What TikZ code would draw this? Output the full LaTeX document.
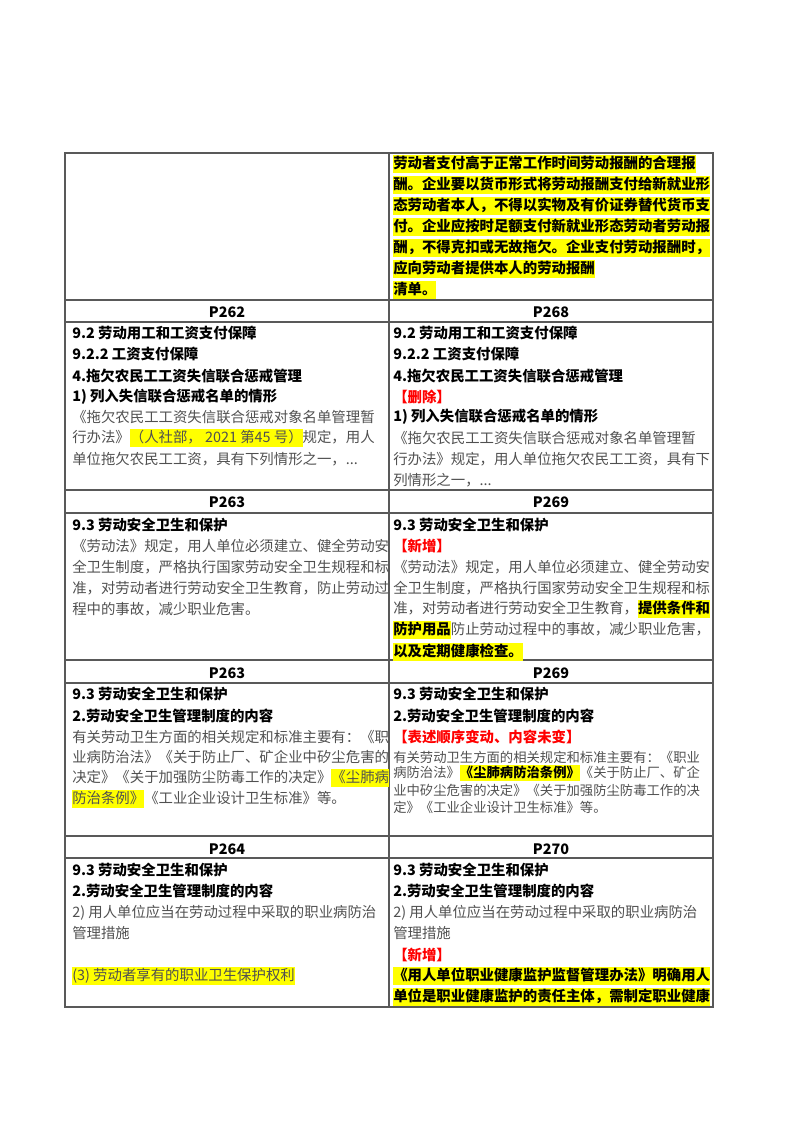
\documentclass[tikz,border=0pt]{standalone}
\usepackage{fontspec}
\setmainfont{Noto Sans CJK SC}
\usepackage{xcolor}
\definecolor{tg}{HTML}{505050}
\definecolor{hly}{HTML}{FFFF00}
\newcommand\hlx[1]{{\setlength{\fboxsep}{0pt}\colorbox{hly}{\rule[-0.28em]{0pt}{1.2em}#1}}}
\tikzset{
 ln/.style={anchor=west,inner sep=0pt,font=\fontsize{10.8}{13}\selectfont,text=tg},
 bl/.style={anchor=west,inner sep=0pt,font=\fontsize{10.8}{13}\selectfont\bfseries,text=black},
 rd/.style={anchor=west,inner sep=0pt,font=\fontsize{10.8}{13}\selectfont\bfseries,text=red},
 sm/.style={anchor=west,inner sep=0pt,font=\fontsize{10}{12}\selectfont,text=tg},
 hd/.style={inner sep=0pt,font=\fontsize{10.8}{13}\selectfont\bfseries},
 gl/.style={draw=black!65,line width=0.8pt}
}
\begin{document}
\begin{tikzpicture}[x=0.75pt,y=-0.75pt]
\useasboundingbox (0,0) rectangle (800,1132);
% grid
\draw[gl] (65,153) rectangle (713,1007);
\draw[gl] (389,153) -- (389,1007);
\foreach \yy in {300,322,490,513,660,683,836,858} \draw[gl] (65,\yy) -- (713,\yy);
% row 1
\node[bl] (r1a) at (393,164) {\hlx{劳动者支付高于正常工作时间劳动报酬的合理报}};
\node[bl] (r1b) at (393,185) {\hlx{酬。企业要以货币形式将劳动报酬支付给新就业形}};
\node[bl] (r1c) at (393,206) {\hlx{态劳动者本人，不得以实物及有价证券替代货币支}};
\node[bl] (r1d) at (393,227) {\hlx{付。企业应按时足额支付新就业形态劳动者劳动报}};
\node[bl] (r1e) at (393,248) {\hlx{酬，不得克扣或无故拖欠。企业支付劳动报酬时，}};
\node[bl] (r1f) at (393,269) {\hlx{应向劳动者提供本人的劳动报酬}};
\node[bl] (r1g) at (393,290) {\hlx{清单。}};
% headers
\node[hd] (h1) at (227,312) {P262};
\node[hd] (h2) at (551,312) {P268};
\node[hd] (h3) at (227,502) {P263};
\node[hd] (h4) at (551,502) {P269};
\node[hd] (h5) at (227,673) {P263};
\node[hd] (h6) at (551,673) {P269};
\node[hd] (h7) at (227,849) {P264};
\node[hd] (h8) at (551,849) {P270};
% block 2 left
\node[bl] (a1) at (72,333) {9.2\ 劳动用工和工资支付保障};
\node[bl] (a2) at (72,354) {9.2.2 工资支付保障};
\node[bl] (a3) at (72,376) {4.拖欠农民工工资失信联合惩戒管理};
\node[bl] (a4) at (72,397) {1) 列入失信联合惩戒名单的情形};
\node[ln] (a5) at (72,417) {《拖欠农民工工资失信联合惩戒对象名单管理暂};
\node[ln] (a6) at (72,438) {行办法》\hlx{（人社部，\ 2021 第45 号）}规定，用人};
\node[ln] (a7) at (72,459) {单位拖欠农民工工资，具有下列情形之一，...};
% block 2 right
\node[bl] (b1) at (393,333) {9.2\ 劳动用工和工资支付保障};
\node[bl] (b2) at (393,354) {9.2.2 工资支付保障};
\node[bl] (b3) at (393,376) {4.拖欠农民工工资失信联合惩戒管理};
\node[rd] (b4) at (393,397) {【删除】};
\node[bl] (b5) at (393,417) {1) 列入失信联合惩戒名单的情形};
\node[ln] (b6) at (393,438) {《拖欠农民工工资失信联合惩戒对象名单管理暂};
\node[ln] (b7) at (393,459) {行办法》规定，用人单位拖欠农民工工资，具有下};
\node[ln] (b8) at (393,480) {列情形之一，...};
% block 3 left
\node[bl] (c1) at (72,525) {9.3\ 劳动安全卫生和保护};
\node[ln] (c2) at (72,546) {《劳动法》规定，用人单位必须建立、健全劳动安};
\node[ln] (c3) at (72,567) {全卫生制度，严格执行国家劳动安全卫生规程和标};
\node[ln] (c4) at (72,588) {准，对劳动者进行劳动安全卫生教育，防止劳动过};
\node[ln] (c5) at (72,609) {程中的事故，减少职业危害。};
% block 3 right
\node[bl] (d1) at (393,525) {9.3\ 劳动安全卫生和保护};
\node[rd] (d2) at (393,546) {【新增】};
\node[ln] (d3) at (393,567) {《劳动法》规定，用人单位必须建立、健全劳动安};
\node[ln] (d4) at (393,588) {全卫生制度，严格执行国家劳动安全卫生规程和标};
\node[ln] (d5) at (393,609) {准，对劳动者进行劳动安全卫生教育，\textcolor{black}{\bfseries\hlx{提供条件和}}};
\node[ln] (d6) at (393,630) {\textcolor{black}{\bfseries\hlx{防护用品}}防止劳动过程中的事故，减少职业危害，};
\node[bl] (d7) at (393,652) {\hlx{以及定期健康检查。}};
% block 4 left
\node[bl] (e1) at (72,694) {9.3\ 劳动安全卫生和保护};
\node[bl] (e2) at (72,716) {2.劳动安全卫生管理制度的内容};
\node[ln] (e3) at (72,737) {有关劳动卫生方面的相关规定和标准主要有：《职};
\node[ln] (e4) at (72,757) {业病防治法》《关于防止厂、矿企业中矽尘危害的};
\node[ln] (e5) at (72,778) {决定》《关于加强防尘防毒工作的决定》\hlx{《尘肺病}};
\node[ln] (e6) at (72,799) {\hlx{防治条例》}《工业企业设计卫生标准》等。};
% block 4 right
\node[bl] (f1) at (393,694) {9.3\ 劳动安全卫生和保护};
\node[bl] (f2) at (393,716) {2.劳动安全卫生管理制度的内容};
\node[rd] (f3) at (393,737) {【表述顺序变动、内容未变】};
\node[sm] (f4) at (393,757) {有关劳动卫生方面的相关规定和标准主要有：《职业};
\node[sm] (f5) at (393,773) {病防治法》\textcolor{black}{\bfseries\hlx{《尘肺病防治条例》}}《关于防止厂、矿企};
\node[sm] (f6) at (393,790) {业中矽尘危害的决定》《关于加强防尘防毒工作的决};
\node[sm] (f7) at (393,807) {定》《工业企业设计卫生标准》等。};
% block 5 left
\node[bl] (g1) at (72,870) {9.3\ 劳动安全卫生和保护};
\node[bl] (g2) at (72,891) {2.劳动安全卫生管理制度的内容};
\node[ln] (g3) at (72,913) {2)\ 用人单位应当在劳动过程中采取的职业病防治};
\node[ln] (g4) at (72,933) {管理措施};
\node[ln] (g5) at (72,976) {\hlx{(3)\ 劳动者享有的职业卫生保护权利}};
% block 5 right
\node[bl] (k1) at (393,870) {9.3\ 劳动安全卫生和保护};
\node[bl] (k2) at (393,891) {2.劳动安全卫生管理制度的内容};
\node[ln] (k3) at (393,913) {2)\ 用人单位应当在劳动过程中采取的职业病防治};
\node[ln] (k4) at (393,933) {管理措施};
\node[rd] (k5) at (393,955) {【新增】};
\node[bl] (k6) at (393,976) {\hlx{《用人单位职业健康监护监督管理办法》明确用人}};
\node[bl] (k7) at (393,997) {\hlx{单位是职业健康监护的责任主体，需制定职业健康}};
\end{tikzpicture}
\end{document}
